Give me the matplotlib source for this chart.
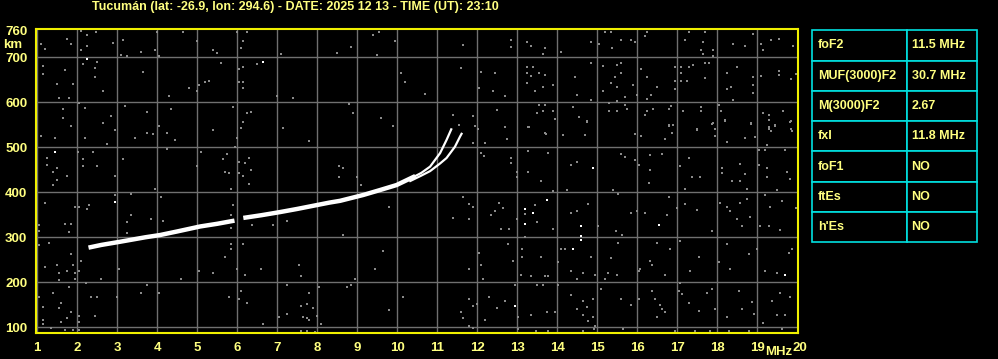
import numpy as np
import matplotlib.pyplot as plt
from matplotlib.transforms import ScaledTranslation

########## header / table ##########
station = 'Tucumán (lat: -26.9, lon: 294.6) - DATE: 2025 12 13 - TIME (UT): 23:10'
param_names = ['foF2', 'MUF(3000)F2', 'M(3000)F2', 'fxI', 'foF1', 'ftEs', "h'Es"]
param_values = ['11.5 MHz', '30.7 MHz', '2.67', '11.8 MHz', 'NO', 'NO', 'NO']

freq_ticks = np.arange(1, 21)
height_ticks = [100, 200, 300, 400, 500, 600, 700]

########## ionogram traces (MHz, km) ##########
o_low_f = [2.28, 2.6, 3.0, 3.32, 3.7, 4.07, 4.5, 5.07, 5.5, 5.93]
o_low_h = [277, 283, 289, 294, 300, 305, 313, 324, 330, 337]
o_mid_f = [6.15, 6.6, 7.07, 7.5, 7.9, 8.3, 8.57, 9.15, 9.57, 9.98, 10.45]
o_mid_h = [343, 349, 356, 363, 370, 377, 381, 394, 405, 416, 436]
o_top_f = [10.3, 10.6, 10.82, 11.07, 11.23, 11.36]
o_top_h = [429, 443, 457, 487, 516, 542]
x_top_f = [10.3, 10.6, 10.82, 11.07, 11.23, 11.44, 11.57, 11.62]
x_top_h = [424, 437, 447, 464, 476, 501, 524, 532]

########## background noise (MHz, km) ##########
noise = np.array([
    (1.09, 730), (1.19, 718), (1.74, 741), (1.84, 730), (2.09, 758), (2.24, 750), (2.46, 756),
    (2.09, 715), (2.24, 724), (2.14, 684), (2.49, 690), (2.45, 676), (1.69, 672), (1.14, 681),
    (1.14, 663), (1.49, 641), (1.89, 641), (1.54, 610), (1.79, 610), (2.03, 599), (2.19, 588),
    (2.44, 655), (2.64, 624), (2.90, 732), (3.09, 705), (3.24, 703), (3.14, 739), (3.59, 712),
    (3.64, 668), (3.94, 715), (4.03, 703), (3.99, 755), (4.64, 755), (4.99, 735), (5.39, 715),
    (5.49, 710), (5.59, 688), (5.04, 638), (5.19, 644), (5.30, 648), (4.79, 632), (4.99, 624),
    (4.29, 614), (5.99, 755), (6.24, 755), (6.14, 735), (6.09, 721), (6.03, 674), (6.14, 678),
    (6.04, 646), (6.14, 646), (6.14, 632), (6.49, 685), (7.09, 707), (6.99, 614), (7.39, 610),
    (8.49, 710), (8.84, 723), (9.39, 749), (9.54, 755), (9.49, 706), (9.94, 736), (10.09, 666),
    (10.19, 646), (10.69, 618), (11.64, 728), (11.59, 676), (12.09, 668), (12.44, 664),
    (12.03, 632), (12.40, 626), (12.69, 614), (12.84, 738), (12.84, 723), (11.40, 572),
    (11.90, 570), (12.49, 583), (9.59, 564), (8.78, 596), (8.90, 576), (3.74, 579), (3.19, 592),
    (2.84, 570), (1.64, 584), (1.64, 566), (6.24, 576), (6.34, 579), (5.89, 589), (4.34, 584),
    (13.23, 733), (13.34, 725), (13.69, 721), (13.64, 707), (14.09, 712), (14.84, 734),
    (15.04, 730), (15.19, 756), (15.34, 757), (15.36, 721), (15.59, 739), (15.84, 739),
    (15.94, 734), (16.23, 756), (16.19, 747), (17.19, 739), (17.29, 757), (17.69, 756),
    (17.64, 734), (17.59, 716), (17.89, 716), (17.64, 707), (17.89, 703), (18.39, 730),
    (18.69, 724), (18.89, 752), (19.34, 739), (19.54, 741), (19.14, 715), (19.09, 730),
    (19.89, 725), (13.24, 679), (13.39, 679), (13.24, 665), (13.34, 659), (13.54, 665),
    (13.69, 661), (13.24, 643), (13.64, 634), (13.89, 638), (13.44, 625), (14.44, 656),
    (14.49, 616), (14.84, 687), (15.14, 681), (15.49, 683), (15.59, 687), (15.44, 656),
    (15.59, 665), (15.34, 643), (15.49, 634), (15.89, 638), (15.14, 625), (15.69, 612),
    (15.49, 603), (14.84, 605), (16.09, 674), (16.24, 656), (16.49, 634), (16.34, 616),
    (16.24, 607), (15.99, 616), (16.94, 679), (17.09, 679), (17.29, 679), (17.39, 683),
    (17.09, 665), (17.69, 687), (17.79, 687), (17.69, 654), (16.94, 647), (17.09, 647),
    (17.24, 647), (16.94, 630), (18.24, 665), (18.49, 679), (18.89, 656), (18.34, 634),
    (18.24, 630), (18.89, 638), (18.89, 621), (19.09, 659), (19.54, 670), (19.54, 661),
    (19.84, 652), (19.97, 663), (18.39, 605), (13.54, 594), (13.69, 594), (13.64, 581),
    (13.49, 576), (13.89, 581), (13.94, 563), (13.29, 546), (13.69, 532), (14.39, 590),
    (14.54, 567), (14.74, 559), (15.29, 599), (15.29, 581), (15.49, 581), (15.69, 594),
    (15.74, 585), (16.24, 581), (16.19, 572), (16.39, 585), (16.79, 585), (16.84, 592),
    (16.79, 550), (16.89, 550), (17.14, 581), (17.59, 590), (17.59, 581), (17.89, 554),
    (17.49, 541), (17.94, 541), (18.04, 594), (18.09, 581), (18.19, 561), (18.84, 554),
    (19.14, 576), (19.29, 572), (19.29, 561), (19.44, 550), (19.29, 545), (19.34, 536),
    (19.64, 581), (19.84, 559), (19.84, 541),
    (1.08, 526), (1.43, 521), (1.83, 548), (2.18, 521), (2.73, 508), (2.93, 539), (2.63, 553),
    (3.43, 521), (3.88, 529), (3.73, 532), (4.23, 532), (4.43, 517), (4.03, 548), (5.38, 539),
    (6.08, 543), (6.13, 557), (6.0, 521), (5.94, 501), (7.13, 543), (7.78, 513), (9.88, 548),
    (1.23, 477), (1.23, 461), (1.38, 446), (1.48, 455), (1.73, 437), (1.48, 427), (1.38, 416),
    (2.02, 490), (2.38, 490), (2.14, 473), (2.14, 459), (2.48, 459), (2.93, 437), (3.13, 473),
    (4.23, 495), (3.93, 407), (4.98, 459), (5.08, 490), (5.63, 473), (5.73, 486), (5.68, 446),
    (5.78, 442), (6.03, 468), (6.28, 477), (6.18, 464), (6.33, 450), (6.13, 437), (6.03, 442),
    (6.28, 418), (5.83, 407), (8.53, 459), (8.63, 455), (8.53, 433), (8.98, 433), (9.08, 416),
    (1.18, 376), (1.03, 327), (1.03, 313), (1.68, 330), (1.83, 330), (1.78, 312), (1.93, 367),
    (2.03, 367), (2.28, 372), (2.23, 363), (2.93, 394), (3.33, 397), (3.33, 350), (3.23, 335),
    (3.23, 310), (3.83, 341), (4.08, 390), (4.13, 336), (5.88, 372), (5.83, 350), (5.83, 320),
    (6.37, 327), (6.88, 327), (7.23, 336), (9.78, 367), (8.63, 305),
    (11.53, 550), (11.93, 547), (12.02, 540), (12.68, 544), (12.18, 510), (11.88, 510),
    (12.73, 518), (13.28, 544), (13.72, 530), (14.13, 528), (14.68, 527), (14.73, 556),
    (15.93, 530), (16.1, 525), (16.68, 518), (16.88, 531), (16.8, 547), (17.48, 539),
    (17.88, 552), (17.93, 525), (18.2, 558), (18.25, 512), (18.68, 521), (18.85, 552),
    (18.95, 522), (19.28, 540), (19.43, 547), (19.83, 556), (19.88, 536), (19.23, 504),
    (12.17, 481), (12.1, 487), (12.85, 476), (12.83, 464), (12.98, 445), (12.98, 435),
    (13.28, 491), (13.28, 445), (13.58, 424), (13.77, 488), (14.33, 460), (14.48, 467),
    (15.58, 484), (15.68, 479), (15.38, 404), (15.53, 396), (15.93, 472), (16.03, 461),
    (16.33, 482), (16.63, 484), (16.33, 450), (16.28, 421), (17.08, 458), (17.28, 475),
    (17.38, 435), (17.58, 433), (17.18, 408), (18.13, 454), (18.13, 442), (18.58, 463),
    (18.68, 441), (18.38, 426), (18.58, 426), (18.73, 408), (19.03, 493), (19.18, 494),
    (19.03, 461), (19.23, 453), (19.23, 435), (19.73, 445), (19.68, 494), (19.48, 404),
    (19.83, 430), (13.88, 402), (14.23, 404),
    (11.63, 389), (11.38, 343), (11.78, 340), (11.78, 373), (11.88, 367), (12.33, 349),
    (12.43, 359), (12.53, 377), (12.63, 364), (12.58, 318), (12.78, 319), (12.98, 341),
    (13.18, 352), (13.18, 300), (13.43, 371), (13.48, 333), (13.88, 319), (14.33, 355),
    (14.48, 359), (14.78, 373), (15.03, 324), (15.47, 315), (15.62, 306), (15.83, 355),
    (15.98, 359), (16.18, 355), (16.73, 350), (16.8, 390), (16.98, 365), (17.18, 373),
    (17.48, 361), (17.88, 315), (18.08, 377), (18.23, 367), (18.33, 359), (18.48, 341),
    (18.58, 377), (18.73, 386), (18.83, 346), (18.63, 324), (19.18, 395), (19.33, 368),
    (19.08, 324), (19.28, 324), (19.63, 381), (19.97, 365), (19.58, 316),
    (1.03, 283), (1.28, 288), (1.18, 235), (1.48, 239), (1.53, 221), (1.53, 204), (1.83, 262),
    (1.88, 239), (1.93, 221), (1.73, 226), (1.93, 208), (1.78, 190), (2.08, 248), (2.03, 226),
    (2.58, 208), (2.21, 199), (2.33, 168), (2.48, 168), (1.38, 177), (1.58, 155), (1.53, 143),
    (1.13, 146), (1.13, 116), (1.13, 107), (1.58, 112), (1.33, 98), (1.03, 168), (1.73, 121),
    (1.83, 134), (2.03, 125), (2.03, 112), (2.03, 94), (1.68, 94), (1.88, 94), (2.43, 125),
    (3.03, 230), (2.98, 168), (3.58, 176), (3.73, 195), (4.03, 177), (4.58, 208), (5.03, 226),
    (5.38, 221), (5.68, 257), (5.83, 284), (5.83, 275), (6.13, 284), (5.98, 230), (6.18, 217),
    (6.58, 230), (5.78, 168), (6.03, 164), (6.08, 181), (6.23, 153), (6.63, 107), (7.05, 124),
    (7.25, 130), (7.25, 195), (7.53, 239), (7.58, 213), (7.78, 177), (7.58, 147), (7.73, 152),
    (7.88, 143), (7.63, 124), (7.73, 121), (7.78, 116), (7.98, 125), (8.08, 107), (8.03, 190),
    (8.73, 190), (8.83, 195), (8.93, 208), (9.43, 230), (9.63, 270), (9.78, 138), (10.13, 168),
    (11.78, 230), (12.03, 266), (12.08, 239), (12.13, 208), (12.28, 168), (11.78, 164),
    (11.88, 147), (11.98, 152), (11.58, 134), (11.63, 121), (12.18, 116), (11.78, 103),
    (11.88, 98), (12.48, 143), (7.58, 92), (7.73, 92), (7.93, 89),
    (12.77, 284), (13.12, 275), (13.12, 257), (13.58, 257), (12.9, 248), (13.1, 217),
    (13.35, 213), (13.68, 213), (13.78, 213), (14.08, 275), (14.18, 275), (14.03, 244),
    (14.33, 226), (14.63, 220), (14.48, 208), (14.83, 257), (14.95, 217), (15.18, 208),
    (15.28, 221), (15.53, 288), (15.33, 253), (15.48, 217), (16.03, 226), (16.08, 230),
    (16.33, 248), (16.38, 239), (16.48, 288), (16.68, 217), (16.83, 275), (17.08, 291),
    (17.08, 199), (17.33, 226), (17.55, 257), (18.03, 244), (18.23, 284), (18.33, 230),
    (18.78, 262), (18.98, 275), (19.18, 226), (19.48, 221), (19.78, 266), (19.88, 275),
    (12.93, 195), (13.48, 195), (13.63, 195), (14.03, 195), (14.33, 172), (14.48, 141),
    (14.63, 159), (14.73, 146), (14.88, 164), (15.08, 186), (12.68, 159), (13.03, 124),
    (13.33, 127), (13.73, 134), (13.93, 133), (14.63, 128), (14.78, 113), (14.88, 122),
    (14.93, 104), (15.58, 164), (15.83, 150), (16.03, 164), (16.38, 181), (16.43, 164),
    (16.58, 150), (16.68, 133), (16.48, 124), (16.63, 141), (17.03, 181), (17.13, 174),
    (17.28, 155), (17.53, 137), (17.73, 177), (17.88, 186), (17.93, 141), (18.23, 122),
    (18.53, 181), (18.63, 141), (18.88, 157), (18.92, 130), (19.38, 159), (19.48, 128),
    (19.68, 128), (19.58, 177), (19.83, 168), (19.15, 110), (19.63, 97), (15.63, 96),
    (16.93, 92), (17.43, 92), (17.83, 92), (18.28, 92), (18.78, 92), (13.47, 92), (13.78, 92),
    (13.03, 96), (14.63, 92), (14.92, 96),
])
# brighter echoes
white_f = [2.25, 6.64, 1.43, 2.93, 14.88, 13.18, 13.18, 13.38, 13.73, 14.58, 14.58, 16.53,
           14.38, 14.58, 12.93, 19.68]
white_h = [696, 690, 490, 378, 453, 362, 330, 353, 382, 325, 303, 328,
           275, 293, 147, 217]

########## figure ##########
yellow = '#ffff80'
plt.rcParams['font.family'] = ['Liberation Sans', 'DejaVu Sans']
plt.rcParams['font.weight'] = 'bold'

W, H = 998, 359
fig = plt.figure(figsize=(W / 100, H / 100), dpi=100, facecolor='black')
ax = fig.add_axes([35.7 / W, 1 - 333.3 / H, (797.7 - 35.7) / W, (333.3 - 29.3) / H])
ax.set_facecolor('black')
ax.set_xlim(0.96, 20.01)
ax.set_ylim(86.7, 762)

for f in freq_ticks[:-1]:
    ax.axvline(f, color='#707070', lw=1.0, zorder=1)
for h in height_ticks:
    ax.axhline(h, color='#707070', lw=1.0, zorder=1)

# small 2x2 px blips
ax.plot(noise[:, 0], noise[:, 1], ls='none', marker='s', color='#8a8a8a', ms=1.5, mew=0,
        antialiased=False, zorder=2)
ax.plot(white_f, white_h, ls='none', marker='s', color='white', ms=1.5, mew=0,
        antialiased=False, zorder=2)

ax.plot(o_low_f, o_low_h, color='white', lw=3.2, solid_capstyle='butt', zorder=3)
ax.plot(o_mid_f, o_mid_h, color='white', lw=3.2, solid_capstyle='butt', zorder=3)
ax.plot(o_top_f, o_top_h, color='white', lw=1.6, solid_capstyle='butt', zorder=3)
ax.plot(x_top_f, x_top_h, color='white', lw=1.6, solid_capstyle='butt', zorder=3)

ax.set_xticks(freq_ticks)
ax.set_yticks(height_ticks + [760])
ax.set_xticklabels([str(f) for f in freq_ticks])
ax.tick_params(length=0, colors=yellow, labelsize=9.5, pad=6)
last = ax.get_xticklabels()[-1]
last.set_transform(last.get_transform() + ScaledTranslation(3 / 100, 0, fig.dpi_scale_trans))
for s in ax.spines.values():
    s.set_color('#f0f000')
    s.set_linewidth(1.5)

fig.text(295 / W, 1 - 7 / H, station, color=yellow, fontsize=9, ha='center', va='center')
fig.text(13 / W, 1 - 45 / H, 'km', color=yellow, fontsize=9.5, ha='center', va='center')
fig.text(779 / W, 1 - 352 / H, 'MHz', color=yellow, fontsize=9.5, ha='center', va='center')

########## parameter table ##########
tab_ax = fig.add_axes([812.3 / W, 1 - 242.3 / H, (977.3 - 812.3) / W, (242.3 - 30.3) / H])
tab_ax.axis('off')
tab = tab_ax.table(cellText=[[n, v] for n, v in zip(param_names, param_values)],
                   cellLoc='left', colWidths=[95 / 165, 70 / 165], bbox=[0, 0, 1, 1])
tab.auto_set_font_size(False)
for cell in tab.get_celld().values():
    cell.set_facecolor('black')
    cell.set_edgecolor('#00e0e0')
    cell.set_linewidth(1.2)
    cell.PAD = 0.06
    cell.get_text().set_color(yellow)
    cell.get_text().set_fontsize(9)
    cell.get_text().set_fontweight('bold')

fig.savefig('out.png', dpi=100, facecolor='black')
